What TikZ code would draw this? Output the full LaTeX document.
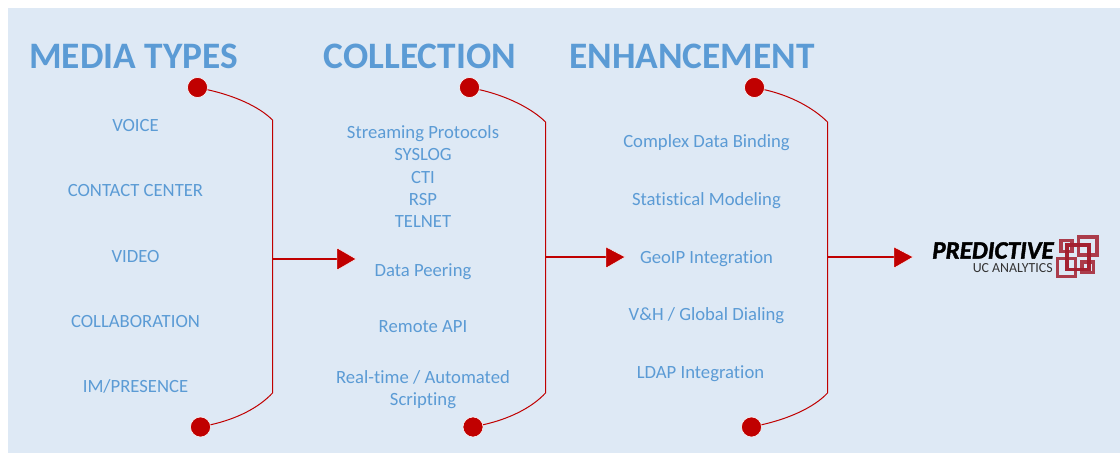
\documentclass[tikz,border=0pt]{standalone}
\usepackage{fontspec}
\setmainfont{Carlito}[Ligatures=NoCommon]
\newfontfamily\logofont[ItalicFont=Carlito Bold Italic,BoldItalicFont=Carlito Bold Italic,FakeBold=1.6,Ligatures=NoCommon]{Carlito}
\usetikzlibrary{arrows.meta}
\definecolor{panel}{HTML}{DEE9F5}
\definecolor{txtblue}{HTML}{5B9BD5}
\definecolor{accent}{HTML}{C00000}
\definecolor{logored}{HTML}{A31E2E}
\tikzset{
  x=0.75pt,y=-0.75pt,
  heading/.style={text=txtblue,font=\fontsize{28}{32}\selectfont\bfseries,inner sep=0pt,anchor=center},
  item/.style={text=txtblue,font=\fontsize{14}{16.5}\selectfont,inner sep=0pt,align=center,anchor=center},
  dot/.style={circle,fill=accent,draw=white,line width=0.4pt,minimum size=15pt,inner sep=0pt},
  brace/.style={draw=accent,line width=0.75pt},
  flow/.style={draw=accent,line width=1.1pt},
  tip/.style={fill=accent,draw=white,line width=0.3pt},
  sq/.style={draw=logored,line width=2.5pt,opacity=0.85},
}
\begin{document}
\begin{tikzpicture}
\useasboundingbox (0,0) rectangle (1120,453);
\fill[white] (0,0) rectangle (1120,453);
\fill[panel] (8,8) rectangle (1120,453);

\node[heading] (h1) at (133.5,56) {MEDIA TYPES};
\node[heading] (h2) at (420,56) {COLLECTION};
\node[heading] (h3) at (692,56) {ENHANCEMENT};

\node[item] (a1) at (135.5,125.5) {VOICE};
\node[item] (a2) at (135.5,190.5) {CONTACT CENTER};
\node[item] (a3) at (135.5,256.5) {VIDEO};
\node[item] (a4) at (135.5,321.5) {COLLABORATION};
\node[item] (a5) at (135.5,386.5) {IM/PRESENCE};

\node[item] (b1) at (423,133.5) {Streaming Protocols};
\node[item] (b2) at (423,154.5) {SYSLOG};
\node[item] (b3) at (423,177.5) {CTI};
\node[item] (b4) at (423,199.5) {RSP};
\node[item] (b5) at (423,221.5) {TELNET};
\node[item] (b6) at (423,271.5) {Data Peering};
\node[item] (b7) at (423,327) {Remote API};
\node[item] (b8) at (423,389.5) {Real-time / Automated\\Scripting};

\node[item] (c1) at (706.5,142.5) {Complex Data Binding};
\node[item] (c2) at (706.5,200.5) {Statistical Modeling};
\node[item] (c3) at (706.5,258.5) {GeoIP Integration};
\node[item] (c4) at (706.5,315.5) {V\&H / Global Dialing};
\node[item] (c5) at (700.5,373.5) {LDAP Integration};

\node[dot] (d1t) at (197.5,87.5) {};
\node[dot] (d1b) at (200.5,427) {};
\node[dot] (d2t) at (469.5,87.5) {};
\node[dot] (d2b) at (473,427) {};
\node[dot] (d3t) at (754.5,87.5) {};
\node[dot] (d3b) at (751.5,427) {};

% brackets
\coordinate (s1t) at (272.5,120); \coordinate (s1m) at (272.5,259); \coordinate (s1b) at (272.5,393);
\coordinate (s2t) at (545.5,122); \coordinate (s2m) at (545.5,257); \coordinate (s2b) at (545.5,393);
\coordinate (s3t) at (827.5,122); \coordinate (s3m) at (827.5,257); \coordinate (s3b) at (827.5,393);

\path[brace] (d1t) .. controls +(36,8) and +(-14,-14) .. (s1t) -- (s1b) .. controls +(-14,15) and +(36,-8) .. (d1b);
\path[brace] (d2t) .. controls +(36,8) and +(-14,-14) .. (s2t) -- (s2b) .. controls +(-14,15) and +(36,-8) .. (d2b);
\path[brace] (d3t) .. controls +(36,8) and +(-14,-14) .. (s3t) -- (s3b) .. controls +(-14,15) and +(36,-8) .. (d3b);

% arrows
\coordinate (e1) at (337,259); \coordinate (e2) at (606,257); \coordinate (e3) at (894,257);
\path[flow] (s1m) -- (e1);
\path[flow] (s2m) -- (e2);
\path[flow] (s3m) -- (e3);
\path[tip] (337,248) -- (356,259) -- (337,270) -- cycle;
\path[tip] (606,247) -- (625,257) -- (606,268) -- cycle;
\path[tip] (894,247) -- (913,257) -- (894,268) -- cycle;

% logo
\node[inner sep=0pt,anchor=center,text=black,font=\logofont\fontsize{18.8}{20}\selectfont\itshape] (l1) at (993,250.5) {PREDICTIVE};
\node[inner sep=0pt,anchor=center,text=black!80,font=\fontsize{10.4}{11}\selectfont] (l2) at (1012.7,267.7) {UC ANALYTICS};
\path[sq] (1061,240.5) rectangle (1072,251.5);
\path[sq] (1078.5,237) rectangle (1097,255);
\path[sq] (1067,245) rectangle (1089,269.5);
\path[sq] (1067,245) rectangle (1089,269.5);
\path[sq] (1057.5,258.5) rectangle (1075.5,276.5);
\path[sq] (1082,262) rectangle (1093.5,272.5);
\end{tikzpicture}
\end{document}
